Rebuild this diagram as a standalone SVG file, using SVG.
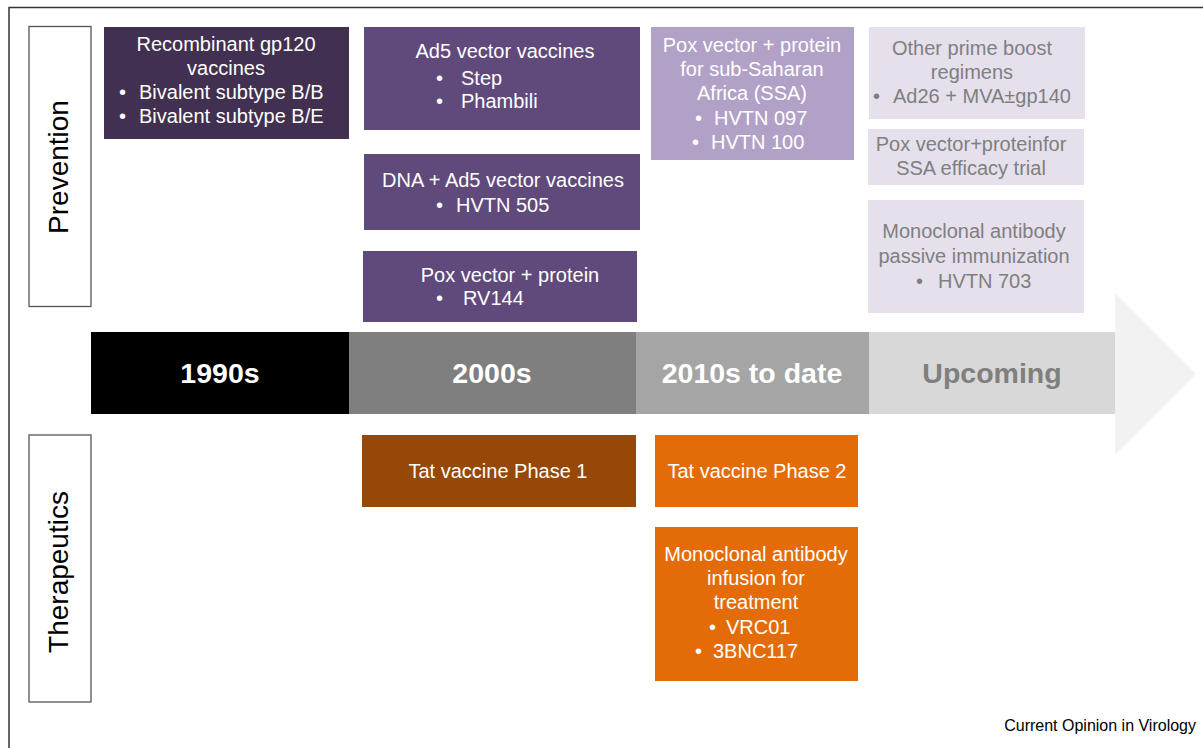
<svg xmlns="http://www.w3.org/2000/svg" width="1203" height="748" viewBox="0 0 1203 748">
<style>
text{font-family:"Liberation Sans",Arial,sans-serif}
.t{font-size:20px;fill:#ffffff;text-anchor:middle}
.g{font-size:20px;fill:#7f7f7f;text-anchor:middle}
.s{text-anchor:start}
.era{font-size:28.5px;font-weight:bold;text-anchor:middle}
.lbl{fill:#ffffff;stroke:#555555;stroke-width:1.3}
.side{font-size:28px;fill:#000000;text-anchor:middle}
</style>
<rect width="1203" height="748" fill="#ffffff"/>
<g id="frame" fill="none" stroke="#333333" stroke-width="1.5">
<path d="M9 748 V7.5 H1203"/>
</g>
<g id="prevention-label">
<rect class="lbl" x="29" y="26.5" width="62" height="280"/>
<text class="side" transform="translate(68,167) rotate(-90)">Prevention</text>
</g>
<g id="therapeutics-label">
<rect class="lbl" x="29" y="435" width="62" height="267"/>
<text class="side" transform="translate(68,572) rotate(-90)">Therapeutics</text>
</g>
<g id="timeline">
<polygon points="1115,293 1196,374 1115,455" fill="#f2f2f2"/>
<rect x="91" y="332" width="258" height="82" fill="#000000"/>
<rect x="349" y="332" width="287" height="82" fill="#7f7f7f"/>
<rect x="636" y="332" width="233" height="82" fill="#a5a5a5"/>
<rect x="869" y="332" width="246" height="82" fill="#d8d8d8"/>
<text class="era" x="220" y="383" fill="#ffffff">1990s</text>
<text class="era" x="492" y="383" fill="#ffffff">2000s</text>
<text class="era" x="752" y="383" fill="#ffffff">2010s to date</text>
<text class="era" x="992" y="383" fill="#7f7f7f">Upcoming</text>
</g>
<g id="connectors"></g>
<g id="gp120">
<rect x="104" y="27" width="245" height="112" fill="#41304f"/>
<text class="t" x="226" y="51">Recombinant gp120</text>
<text class="t" x="226" y="75">vaccines</text>
<text class="t s" y="99"><tspan x="119">•</tspan><tspan x="139">Bivalent subtype B/B</tspan></text>
<text class="t s" y="123"><tspan x="119">•</tspan><tspan x="139">Bivalent subtype B/E</tspan></text>
</g>
<g id="ad5">
<rect x="364" y="27" width="276" height="103" fill="#604a7b"/>
<text class="t" x="505" y="58">Ad5 vector vaccines</text>
<text class="t s" y="85"><tspan x="436">•</tspan><tspan x="461">Step</tspan></text>
<text class="t s" y="108"><tspan x="436">•</tspan><tspan x="461">Phambili</tspan></text>
</g>
<g id="dna-ad5">
<rect x="364" y="154" width="276" height="76" fill="#604a7b"/>
<text class="t" x="503" y="187">DNA + Ad5 vector vaccines</text>
<text class="t s" y="212"><tspan x="436">•</tspan><tspan x="456">HVTN 505</tspan></text>
</g>
<g id="pox-rv144">
<rect x="363" y="251" width="274" height="71" fill="#604a7b"/>
<text class="t" x="510" y="282">Pox vector + protein</text>
<text class="t s" y="305"><tspan x="436">•</tspan><tspan x="463">RV144</tspan></text>
</g>
<g id="pox-ssa">
<rect x="651" y="27" width="203" height="133" fill="#b2a1c7"/>
<text class="t" x="752" y="52">Pox vector + protein</text>
<text class="t" x="752" y="76">for sub-Saharan</text>
<text class="t" x="752" y="100">Africa (SSA)</text>
<text class="t s" y="125"><tspan x="695">•</tspan><tspan x="714">HVTN 097</tspan></text>
<text class="t s" y="149"><tspan x="692">•</tspan><tspan x="711">HVTN 100</tspan></text>
</g>
<g id="prime-boost">
<rect x="869" y="27" width="216" height="92" fill="#e5e0ec"/>
<text class="g" x="972" y="55">Other prime boost</text>
<text class="g" x="972" y="79">regimens</text>
<text class="g s" y="103"><tspan x="873">•</tspan><tspan x="893">Ad26 + MVA±gp140</tspan></text>
</g>
<g id="pox-ssa-efficacy">
<rect x="868" y="129" width="216" height="56" fill="#e5e0ec"/>
<text class="g" x="971" y="151">Pox vector+proteinfor</text>
<text class="g" x="971" y="175">SSA efficacy trial</text>
</g>
<g id="mab-passive">
<rect x="868" y="200" width="216" height="113" fill="#e5e0ec"/>
<text class="g" x="974" y="238">Monoclonal antibody</text>
<text class="g" x="974" y="263">passive immunization</text>
<text class="g s" y="288"><tspan x="916">•</tspan><tspan x="938">HVTN 703</tspan></text>
</g>
<g id="tat1">
<rect x="362" y="435" width="274" height="72" fill="#974806"/>
<text class="t" x="498" y="478">Tat vaccine Phase 1</text>
</g>
<g id="tat2">
<rect x="655" y="435" width="203" height="72" fill="#e36c09"/>
<text class="t" x="757" y="478">Tat vaccine Phase 2</text>
</g>
<g id="mab-infusion">
<rect x="655" y="527" width="203" height="154" fill="#e36c09"/>
<text class="t" x="756" y="561">Monoclonal antibody</text>
<text class="t" x="756" y="585">infusion for</text>
<text class="t" x="756" y="609">treatment</text>
<text class="t s" y="634"><tspan x="709">•</tspan><tspan x="726">VRC01</tspan></text>
<text class="t s" y="658"><tspan x="695">•</tspan><tspan x="713">3BNC117</tspan></text>
</g>
<text x="1196" y="731" font-size="16" fill="#000000" text-anchor="end">Current Opinion in Virology</text>
</svg>
